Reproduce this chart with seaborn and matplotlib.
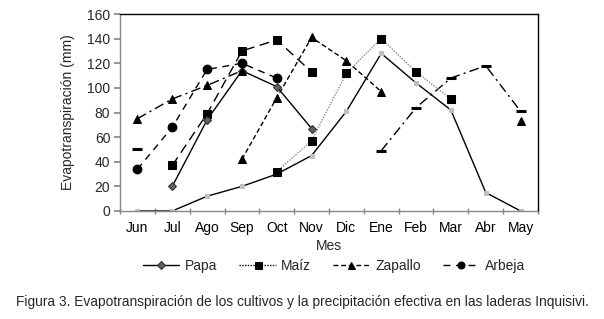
import numpy as np
import pandas as pd
import matplotlib
matplotlib.use("Agg")
import matplotlib.pyplot as plt
import seaborn as sns

# Data
meses = ["Jun", "Jul", "Ago", "Sep", "Oct", "Nov", "Dic", "Ene", "Feb", "Mar", "Abr", "May"]
nan = np.nan
papa = [nan, 20, 74, 114, 101, 67, nan, nan, nan, nan, nan, nan]
maiz = [nan, nan, nan, nan, 32, 57, 112, 140, 113, 91, nan, nan]
zapallo = [nan, nan, nan, 42, 92, 141, 122, 97, nan, nan, nan, nan]
arbeja = [34, 68, 115, 120, 108, nan, nan, nan, nan, nan, nan, nan]
# series not shown in the legend
maiz_temprano = [nan, 37, 79, 130, 139, 113, nan, nan, nan, nan, nan, nan]
zapallo_temprano = [75, 91, 102, 114, nan, nan, nan, nan, nan, nan, nan, 73]
otro_cultivo = [50, nan, nan, nan, nan, nan, nan, 49, 84, 108, 118, 81]
precip_efectiva = [0, 0, 12, 20, 30, 45, 81, 128, 104, 82, 15, 0]

sns.set_theme(style="white")
plt.rcParams['font.family'] = ['Liberation Sans', 'DejaVu Sans']

fig = plt.figure(figsize=(6.04, 3.19), dpi=100)
ax = fig.add_axes([0.1987, 0.3386, 0.692, 0.6174])

x = np.arange(len(meses))


def draw(values, label=None, **kw):
    """Draw each run of consecutive values as its own line"""
    df = pd.DataFrame({'mes': x, 'valor': values})
    df['run'] = df['valor'].isna().cumsum()
    df = df.dropna()
    first = True
    for _, seg in df.groupby('run'):
        sns.lineplot(data=seg, x='mes', y='valor', ax=ax, sort=False,
                     label=label if first else None, legend=False, **kw)
        first = False


base = dict(color='black', linewidth=1.0)
dashdot = (0, (7, 3, 1.5, 3))

draw(precip_efectiva, marker='s', markersize=3, markerfacecolor='#c0c0c0',
     markeredgecolor='#c0c0c0', linestyle='-', **base)
draw(otro_cultivo, marker='_', markersize=7, markeredgewidth=2.2,
     markeredgecolor='black', linestyle=dashdot, **base)
draw(maiz_temprano, marker='s', markersize=6.3, markerfacecolor='black',
     markeredgecolor='black', linestyle=(0, (7, 4)), **base)
draw(arbeja, label='Arbeja', marker='o', markersize=6.3, markerfacecolor='black',
     markeredgecolor='black', linestyle=(0, (5, 4)), **base)
draw(zapallo, label='Zapallo', marker='^', markersize=6.3, markerfacecolor='black',
     markeredgecolor='black', linestyle=(0, (3.5, 2)), **base)
draw(maiz, label='Maíz', marker='s', markersize=6.3, markerfacecolor='black',
     markeredgecolor='black', linestyle=(0, (1, 1)), **{**base, 'color': '#8a8a8a'})
draw(papa, label='Papa', marker='D', markersize=4.5, markerfacecolor='#606060',
     markeredgecolor='#303030', linestyle='-', **base)
draw(zapallo_temprano, marker='^', markersize=6.3, markerfacecolor='black',
     markeredgecolor='black', linestyle=dashdot, **base)

ax.set_xlim(-0.5, 11.5)
ax.set_ylim(0, 160)
ax.set_yticks(range(0, 161, 20))
ax.set_xticks(x)
ax.set_xticklabels(meses)
ax.set_xticks(np.arange(-0.5, 12, 1), minor=True)
ax.tick_params(axis='x', which='major', length=0, labelsize=10, pad=7, colors='black')
ax.tick_params(axis='x', which='minor', bottom=True, length=4, color='#888888', direction='inout')
ax.tick_params(axis='y', left=True, length=4, color='#888888', labelsize=10, pad=3)
ax.set_xlabel('Mes', fontsize=10, labelpad=3)
ax.set_ylabel('Evapotranspiración (mm)', fontsize=10, labelpad=9)

for side in ['top', 'right']:
    ax.spines[side].set_color('black')
    ax.spines[side].set_linewidth(1.0)
for side in ['left', 'bottom']:
    ax.spines[side].set_color('#888888')
    ax.spines[side].set_linewidth(1.0)

# legend in the order Papa, Maíz, Zapallo, Arbeja
handles, labels = ax.get_legend_handles_labels()
order = ['Papa', 'Maíz', 'Zapallo', 'Arbeja']
hmap = dict(zip(labels, handles))
leg = fig.legend([hmap[k] for k in order], order, loc='center', bbox_to_anchor=(0.553, 0.166),
                 ncol=4, frameon=False, fontsize=10, handlelength=2.6, columnspacing=1.6,
                 handletextpad=0.4, markerscale=0.8)
leg.get_lines()[1].set_color('black')

fig.text(0.5, 0.053, 'Figura 3. Evapotranspiración de los cultivos y la precipitación efectiva en las laderas Inquisivi.',
         ha='center', va='center', fontsize=9.9)

fig.savefig('out.png', dpi=100)
